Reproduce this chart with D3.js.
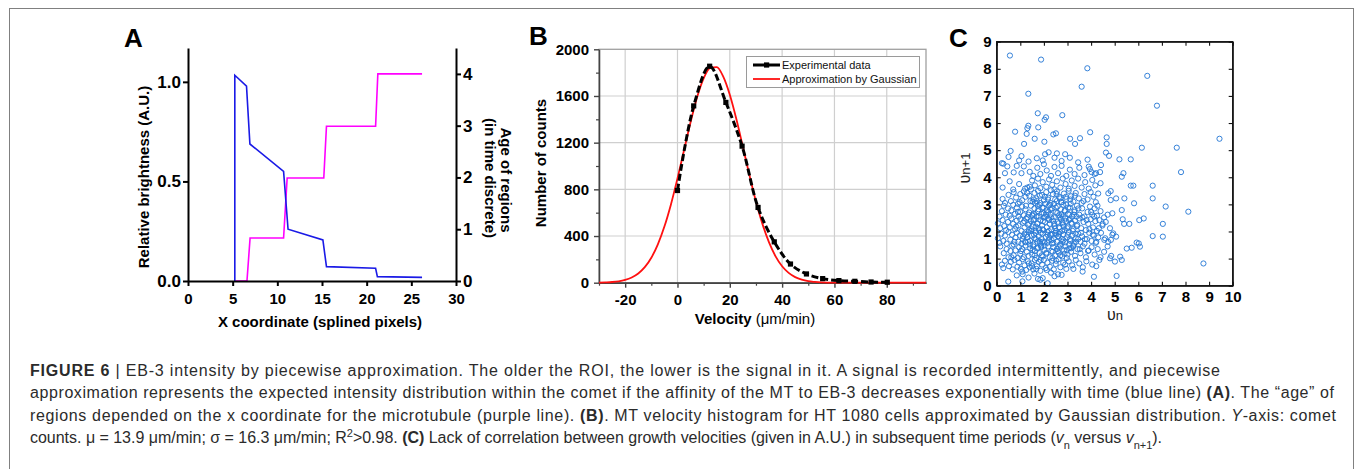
<!DOCTYPE html>
<html>
<head>
<meta charset="utf-8">
<script src="https://cdn.jsdelivr.net/npm/d3@7"></script>
<style>
body { margin: 0; background: #fff; }
svg { display: block; font-family: 'Liberation Sans', Arial, Helvetica, sans-serif; }
</style>
</head>
<body>
<div id="fig"></div>
<script>
// ---- panel A: piecewise brightness (blue) and region age (magenta)
const brightX = [5.24, 5.24, 6.55, 6.93, 10.7, 11.2, 15.1, 15.5, 21.0, 21.2, 26.2];
const brightY = [0, 1.033, 0.978, 0.688, 0.55, 0.26, 0.206, 0.072, 0.064, 0.022, 0.018];
const ageX = [5.3, 6.6, 6.95, 10.7, 11.1, 15.2, 15.5, 21.0, 21.25, 26.2];
const ageY = [0, 0, 0.83, 0.83, 1.99, 1.99, 2.99, 2.99, 4.0, 4.0];
const ticksAx = [0, 5, 10, 15, 20, 25, 30];
const ticksAy = [0, 0.5, 1.0];
const ticksAy2 = [0, 1, 2, 3, 4];

// ---- panel B: velocity histogram + gaussian
const velBins = [0, 6.2, 12.3, 18.5, 24.7, 30.8, 37.0, 43.2, 49.3, 55.5, 61.7, 67.8, 74.0, 80.2];
const velCounts = [790, 1515, 1855, 1545, 1170, 645, 350, 160, 75, 35, 18, 12, 6, 4];
const gaussX = [-30, -27.5, -25, -22.5, -20, -17.5, -15, -12.5, -10, -7.5, -5, -2.5, 0, 2.5, 5, 7.5, 10, 12.5, 15,
    17.5, 20, 22.5, 25, 27.5, 30, 32.5, 35, 37.5, 40, 42.5, 45, 47.5, 50, 52.5, 55, 57.5, 60, 95];
const gaussY = [1, 3, 6, 12, 24, 45, 79, 133, 214, 329, 481, 671, 894, 1135, 1375, 1589, 1751, 1841, 1847,
    1766, 1611, 1403, 1164, 922, 696, 502, 345, 226, 141, 84, 48, 26, 13, 7, 3, 1, 0, 0];
const ticksBx = [-20, 0, 20, 40, 60, 80];
const minorBx = [-30, -10, 10, 30, 50, 70, 90];
const ticksBy = [0, 400, 800, 1200, 1600, 2000];
const minorBy = [200, 600, 1000, 1400, 1800];

// ---- panel C: v(n) vs v(n+1)
const outlierPairs = [
    [0.56, 8.49], [1.88, 8.34], [3.84, 8.02], [6.38, 7.74], [1.34, 7.08], [3.60, 7.34], [6.79, 6.64],
    [1.74, 6.36], [2.09, 6.21], [2.03, 6.12], [2.78, 6.29], [0.78, 5.68], [1.34, 5.90], [1.30, 5.81],
    [1.76, 5.84], [1.27, 5.60], [2.51, 5.62], [2.40, 5.58], [3.96, 5.66], [3.11, 5.42], [3.53, 5.44],
    [4.66, 5.47], [0.59, 4.97], [1.16, 5.23], [1.61, 5.42], [2.02, 5.31], [3.32, 5.23], [4.66, 5.23],
    [4.63, 4.91], [4.76, 4.79], [5.20, 4.66], [5.68, 4.66], [6.15, 5.09], [7.63, 5.09], [9.44, 5.42],
    [7.81, 4.19], [8.12, 2.73], [7.16, 2.92], [7.04, 2.28], [7.04, 1.81], [6.61, 1.83], [6.61, 3.22],
    [6.61, 3.69], [5.82, 3.04], [6.23, 2.48], [6.04, 2.42], [6.02, 1.56], [6.07, 1.44], [5.93, 1.59],
    [5.72, 1.40], [5.51, 1.37], [8.76, 0.82], [5.08, 0.36], [4.12, 0.33], [3.64, 0.52], [0.49, 0.15],
    [2.16, 0.09], [1.09, 0.16], [5.23, 1.07], [5.30, 0.95], [5.01, 0.89], [4.80, 1.01], [5.41, 3.22],
    [5.30, 4.02], [5.37, 4.15], [5.79, 3.69], [5.68, 3.69], [5.30, 2.79], [4.90, 2.67], [5.06, 3.22],
    [4.49, 2.28], [4.56, 1.69], [4.80, 2.12], [5.40, 2.28], [5.34, 2.45], [4.94, 1.93], [4.84, 1.69],
    [5.06, 1.81], [5.62, 2.28], [4.83, 3.16], [4.73, 3.41], [4.83, 3.49], [4.38, 4.19], [4.42, 4.45],
    [3.90, 4.39], [4.02, 4.19], [4.21, 4.15], [0.22, 4.52], [0.28, 4.50], [0.35, 4.15]
];
const clusterPairs = [
    [1.75, 0.25], [1.85, 0.22], [1.95, 0.28], [2.45, 0.35], [2.6, 0.42], [2.75, 0.4], [1.1, 0.42], [0.85, 0.38],
    [1.6, 0.45], [2.3, 0.48], [1.35, 0.3],
    [0.22, 0.78], [0.28, 0.65], [0.35, 0.92], [0.52, 0.72], [0.6, 0.88], [0.68, 0.6], [0.75, 0.95], [0.88, 0.7],
    [0.95, 0.85], [1.02, 0.62], [1.1, 0.98], [1.18, 0.75], [1.25, 0.58], [1.32, 0.9], [1.4, 0.68], [1.48, 0.82],
    [1.55, 0.6], [1.62, 0.95], [1.7, 0.72], [1.78, 0.88], [1.85, 0.55], [1.92, 0.78], [2.0, 0.95], [2.08, 0.65],
    [2.15, 0.85], [2.25, 0.7], [2.35, 0.92], [2.42, 0.6], [2.5, 0.8], [2.62, 0.98], [2.7, 0.68], [2.82, 0.85],
    [2.95, 0.62], [3.05, 0.9], [3.2, 0.75], [3.35, 0.95], [3.5, 0.82], [3.65, 0.68], [3.8, 0.9], [4.05, 0.78],
    [4.22, 0.72], [4.35, 0.95],
    [0.15, 1.45], [0.3, 1.2], [0.42, 1.35], [0.5, 1.05], [0.58, 1.28], [0.65, 1.48], [0.72, 1.12], [0.8, 1.3],
    [0.88, 1.02], [0.95, 1.42], [1.0, 1.18], [1.08, 1.35], [1.15, 1.05], [1.22, 1.48], [1.28, 1.25], [1.35, 1.1],
    [1.42, 1.38], [1.5, 1.15], [1.55, 1.45], [1.62, 1.28], [1.68, 1.02], [1.75, 1.4], [1.82, 1.2], [1.88, 1.48],
    [1.95, 1.08], [2.02, 1.32], [2.1, 1.18], [2.18, 1.45], [2.25, 1.05], [2.32, 1.28], [2.4, 1.42], [2.48, 1.12],
    [2.55, 1.35], [2.62, 1.22], [2.7, 1.48], [2.78, 1.08], [2.85, 1.3], [2.92, 1.45], [3.0, 1.15], [3.08, 1.38],
    [3.15, 1.25], [3.25, 1.48], [3.32, 1.1], [3.42, 1.35], [3.55, 1.2], [3.65, 1.45], [3.78, 1.05], [3.9, 1.3],
    [4.02, 1.42], [4.15, 1.15], [4.28, 1.35], [4.4, 1.05], [4.55, 1.25], [4.7, 1.45], [4.85, 1.1],
    [0.05, 1.75], [0.12, 1.58], [0.2, 1.92], [0.28, 1.65], [0.35, 1.85], [0.42, 1.55], [0.5, 1.98], [0.58, 1.7],
    [0.65, 1.88], [0.72, 1.52], [0.8, 1.78], [0.85, 1.95], [0.92, 1.62], [0.98, 1.85], [1.05, 1.55], [1.1, 1.72],
    [1.18, 1.92], [1.22, 1.6], [1.3, 1.8], [1.35, 1.98], [1.42, 1.65], [1.48, 1.85], [1.55, 1.52], [1.6, 1.75],
    [1.65, 1.95], [1.72, 1.62], [1.78, 1.82], [1.85, 1.55], [1.9, 1.72], [1.95, 1.92], [2.02, 1.6], [2.08, 1.8],
    [2.15, 1.98], [2.2, 1.68], [2.28, 1.88], [2.35, 1.55], [2.42, 1.75], [2.48, 1.95], [2.55, 1.62], [2.62, 1.82],
    [2.68, 1.52], [2.75, 1.72], [2.82, 1.9], [2.9, 1.6], [2.98, 1.78], [3.05, 1.98], [3.12, 1.65], [3.2, 1.85],
    [3.28, 1.55], [3.35, 1.75], [3.45, 1.92], [3.55, 1.62], [3.62, 1.82], [3.72, 1.55], [3.82, 1.72], [3.92, 1.95],
    [4.02, 1.65], [4.12, 1.85], [4.2, 1.58], [4.3, 1.78], [4.42, 1.95], [4.6, 1.75], [4.72, 1.62], [4.9, 1.88],
    [0.05, 2.3], [0.15, 2.12], [0.25, 2.42], [0.32, 2.2], [0.4, 2.05], [0.48, 2.35], [0.55, 2.15], [0.62, 2.48],
    [0.7, 2.28], [0.78, 2.08], [0.85, 2.4], [0.92, 2.22], [1.0, 2.45], [1.05, 2.02], [1.12, 2.32], [1.18, 2.15],
    [1.25, 2.48], [1.32, 2.25], [1.38, 2.05], [1.45, 2.38], [1.52, 2.18], [1.58, 2.45], [1.65, 2.02], [1.72, 2.3],
    [1.78, 2.12], [1.85, 2.42], [1.92, 2.22], [1.98, 2.05], [2.05, 2.35], [2.12, 2.15], [2.18, 2.48], [2.25, 2.28],
    [2.32, 2.08], [2.38, 2.4], [2.45, 2.2], [2.52, 2.02], [2.58, 2.35], [2.65, 2.15], [2.72, 2.45], [2.8, 2.25],
    [2.88, 2.05], [2.95, 2.38], [3.02, 2.18], [3.1, 2.45], [3.18, 2.28], [3.25, 2.08], [3.32, 2.4], [3.4, 2.2],
    [3.5, 2.48], [3.58, 2.12], [3.68, 2.35], [3.78, 2.05], [3.88, 2.28], [3.98, 2.45], [4.08, 2.15], [4.18, 2.38],
    [4.25, 2.02], [4.35, 2.42], [4.48, 2.22], [4.62, 2.35],
    [0.12, 2.55], [0.22, 2.75], [0.3, 2.95], [0.38, 2.62], [0.48, 2.85], [0.55, 2.58], [0.62, 2.78], [0.7, 2.98],
    [0.78, 2.65], [0.85, 2.88], [0.92, 2.55], [1.0, 2.72], [1.08, 2.92], [1.15, 2.6], [1.22, 2.82], [1.3, 2.52],
    [1.38, 2.7], [1.45, 2.95], [1.52, 2.62], [1.6, 2.85], [1.68, 2.55], [1.75, 2.75], [1.82, 2.98], [1.9, 2.65],
    [1.98, 2.88], [2.05, 2.55], [2.12, 2.78], [2.2, 2.95], [2.28, 2.62], [2.35, 2.85], [2.42, 2.52], [2.5, 2.72],
    [2.58, 2.92], [2.65, 2.6], [2.72, 2.82], [2.8, 2.55], [2.88, 2.75], [2.95, 2.98], [3.02, 2.65], [3.1, 2.88],
    [3.2, 2.55], [3.3, 2.78], [3.4, 2.95], [3.5, 2.62], [3.62, 2.85], [3.72, 2.55], [3.85, 2.72], [3.95, 2.92],
    [4.05, 2.62], [4.15, 2.85], [4.25, 2.58], [4.4, 2.75], [4.55, 2.52], [4.7, 2.62],
    [0.25, 3.2], [0.35, 3.05], [0.5, 3.35], [0.6, 3.12], [0.72, 3.45], [0.82, 3.25], [0.9, 3.02], [1.0, 3.38],
    [1.08, 3.15], [1.15, 3.48], [1.22, 3.28], [1.3, 3.62], [1.38, 3.32], [1.45, 3.55], [1.52, 3.1], [1.6, 3.42],
    [1.68, 3.22], [1.75, 3.5], [1.85, 3.05], [1.92, 3.35], [2.0, 3.15], [2.1, 3.45], [2.18, 3.25], [2.28, 3.05],
    [2.38, 3.38], [2.48, 3.18], [2.55, 3.48], [2.65, 3.28], [2.75, 3.08], [2.85, 3.4], [2.95, 3.2], [3.05, 3.5],
    [3.15, 3.3], [3.25, 3.1], [3.35, 3.42], [3.48, 3.22], [3.6, 3.05], [3.72, 3.38], [3.85, 3.18], [3.98, 3.45],
    [4.1, 3.28], [4.2, 3.08], [4.3, 3.4],
    [0.25, 3.62], [0.55, 3.85], [0.7, 3.55], [0.95, 3.75], [1.2, 3.58], [1.4, 3.65], [1.5, 3.88], [1.62, 3.7],
    [1.75, 3.95], [1.85, 3.6], [1.95, 3.82], [2.1, 3.65], [2.22, 3.92], [2.35, 3.72], [2.45, 3.55], [2.55, 3.85],
    [2.7, 3.62], [2.8, 3.95], [2.92, 3.75], [3.05, 3.58], [3.18, 3.88], [3.3, 3.68], [3.45, 3.95], [3.6, 3.62],
    [3.75, 3.82], [3.9, 3.58], [4.05, 3.9], [4.18, 3.7], [4.4, 3.78],
    [0.45, 4.4], [0.72, 4.18], [0.85, 4.42], [1.05, 4.15], [1.15, 4.4], [1.4, 4.2], [1.55, 4.05], [1.72, 4.35],
    [1.85, 4.12], [2.0, 4.48], [2.12, 4.25], [2.3, 4.05], [2.45, 4.38], [2.6, 4.15], [2.75, 4.42], [2.95, 4.05],
    [3.1, 4.28], [3.3, 4.12], [3.5, 4.35], [3.72, 4.08], [3.95, 4.3], [4.15, 4.12],
    [0.5, 4.75], [0.95, 4.62], [1.05, 4.78], [1.35, 4.58], [1.7, 4.7], [1.95, 4.62], [2.05, 4.85], [2.2, 4.92],
    [2.45, 4.72], [2.55, 4.88], [2.75, 4.6], [2.9, 4.85], [3.1, 4.72], [3.45, 4.55], [3.85, 4.65],
    [1.33, 1.62], [1.47, 2.08], [1.58, 2.65], [1.63, 3.05], [1.71, 1.38], [1.79, 2.55], [1.87, 1.95], [1.93, 2.88],
    [2.03, 1.48], [2.09, 2.62], [2.17, 3.18], [2.23, 1.78], [2.31, 2.52], [2.37, 1.25], [2.43, 3.02], [2.51, 1.88],
    [2.57, 2.68], [2.63, 1.42], [2.69, 3.22], [2.77, 2.02], [2.83, 1.68], [2.91, 2.48], [2.97, 1.32], [3.03, 2.88],
    [3.11, 1.72], [3.17, 2.32], [3.23, 1.45], [3.29, 2.72], [1.38, 2.28], [1.52, 1.32], [1.66, 2.18], [1.74, 2.95],
    [1.82, 1.62], [1.96, 2.38], [2.04, 3.28], [2.14, 1.58], [2.27, 2.82], [2.47, 2.12], [2.61, 1.82], [2.74, 2.62],
    [2.87, 1.18], [2.99, 2.12], [3.14, 3.02], [3.33, 1.92], [1.25, 1.88], [1.43, 3.12], [1.91, 1.12], [2.33, 1.68],
    [2.55, 3.12], [2.79, 2.32], [3.07, 1.52], [3.38, 2.55], [1.56, 2.42], [2.21, 2.02], [2.67, 1.98], [1.99, 2.68]
];
const corePairs = [
    [0.62, 1.05], [0.75, 1.62], [0.82, 2.18], [0.9, 2.72], [0.97, 3.08], [1.03, 1.28], [1.12, 1.82], [1.17, 2.38],
    [1.24, 2.95], [1.29, 3.42], [1.36, 0.82], [1.41, 1.52], [1.46, 2.02], [1.51, 2.58], [1.57, 3.18], [1.61, 1.12],
    [1.67, 1.72], [1.73, 2.28], [1.77, 2.82], [1.83, 3.32], [1.86, 0.95], [1.89, 1.42], [1.94, 2.08], [2.0, 2.52],
    [2.06, 3.02], [2.11, 1.22], [2.16, 1.88], [2.22, 2.42], [2.26, 2.98], [2.3, 3.52], [2.36, 1.02], [2.4, 1.58],
    [2.44, 2.28], [2.5, 2.88], [2.54, 3.38], [2.59, 1.28], [2.64, 1.92], [2.68, 2.52], [2.73, 3.08], [2.78, 1.62],
    [2.84, 2.18], [2.89, 2.78], [2.93, 3.28], [2.97, 1.02], [3.01, 1.88], [3.06, 2.42], [3.12, 3.18], [3.16, 1.38],
    [3.22, 2.02], [3.27, 2.62], [3.31, 3.32], [3.36, 1.62], [3.41, 2.25], [3.46, 2.85], [3.52, 1.35], [3.57, 1.95],
    [3.63, 2.52], [3.68, 3.12], [3.74, 1.72], [3.81, 2.42], [3.87, 1.28], [3.93, 2.08], [4.0, 2.72], [4.07, 1.88],
    [4.13, 2.55], [4.22, 1.62], [4.27, 2.95], [4.33, 2.12], [1.08, 0.52], [1.5, 0.72], [1.68, 0.62], [2.12, 0.58],
    [2.52, 0.92], [2.9, 0.78], [3.25, 0.62], [1.2, 1.62], [1.35, 2.62], [1.8, 2.05], [2.35, 1.88], [2.62, 2.3],
    [1.95, 1.62], [2.82, 2.98], [3.08, 2.62], [1.58, 1.88], [2.18, 2.72], [2.7, 1.12], [3.45, 1.72], [1.7, 3.12]
];
const ticksC = [0, 1, 2, 3, 4, 5, 6, 7, 8, 9, 10];
const ticksCy = [0, 1, 2, 3, 4, 5, 6, 7, 8, 9];

const W = 1355, H = 469;
const FONT = "'Liberation Sans', Arial, sans-serif";
const plain = d => String(d);

let svg = d3.select('#fig').append('svg')
    .attr('width', W)
    .attr('height', H);

// outer frame of the figure
svg.append('rect')
    .attr('x', 9.5).attr('y', 8.5)
    .attr('width', 1344).attr('height', 470)
    .attr('fill', 'none')
    .attr('stroke', '#808080')
    .attr('stroke-width', 1);

// restyle the d3 axis defaults
function styleAxis(g, size, weight, stroke, width) {
    g.attr('font-size', null).attr('font-family', null);
    g.selectAll('path, line').attr('stroke', stroke).attr('stroke-width', width);
    g.selectAll('text')
        .attr('fill', '#000')
        .style('font-family', FONT)
        .style('font-size', size + 'px')
        .style('font-weight', weight);
}

function panelLetter(x, y, t) {
    svg.append('text')
        .attr('x', x).attr('y', y)
        .style('font-size', '26px')
        .style('font-weight', 'bold')
        .text(t);
}

// ================= A =================
let xA = d3.scaleLinear().domain([0, 30]).range([188, 456]);
let yA = d3.scaleLinear().domain([0, 1.17]).range([281, 48]);
let yA2 = d3.scaleLinear().domain([0, 4.5]).range([281, 48]);

let gA = svg.append('g');

gA.append('path')
    .datum(d3.range(ageX.length))
    .attr('fill', 'none')
    .attr('stroke', '#ff00ff')
    .attr('stroke-width', 1.6)
    .attr('d', d3.line().x(i => xA(ageX[i])).y(i => yA2(ageY[i])));

gA.append('path')
    .datum(d3.range(brightX.length))
    .attr('fill', 'none')
    .attr('stroke', '#1a1ae6')
    .attr('stroke-width', 1.6)
    .attr('d', d3.line().x(i => xA(brightX[i])).y(i => yA(brightY[i])));

gA.append('g')
    .attr('transform', 'translate(0,281)')
    .call(d3.axisBottom(xA).tickValues(ticksAx).tickFormat(plain).tickSize(5).tickSizeOuter(0).tickPadding(7))
    .call(g => styleAxis(g, 15, 'bold', '#000', 2));

gA.append('g')
    .attr('transform', 'translate(188,0)')
    .call(d3.axisLeft(yA).tickValues(ticksAy).tickFormat(d3.format('.1f')).tickSize(5).tickSizeOuter(0).tickPadding(2))
    .call(g => styleAxis(g, 17, 'bold', '#000', 2));

gA.append('g')
    .attr('transform', 'translate(456,0)')
    .call(d3.axisRight(yA2).tickValues(ticksAy2).tickFormat(plain).tickSize(5).tickSizeOuter(0).tickPadding(2))
    .call(g => styleAxis(g, 17, 'bold', '#000', 2));

gA.append('text')
    .attr('x', 320).attr('y', 327)
    .attr('text-anchor', 'middle')
    .style('font-size', '15px').style('font-weight', 'bold')
    .text('X coordinate (splined pixels)');

gA.append('text')
    .attr('transform', 'translate(149,177) rotate(-90)')
    .attr('text-anchor', 'middle')
    .style('font-size', '15px').style('font-weight', 'bold')
    .text('Relative brightness (A.U.)');

gA.append('text')
    .attr('transform', 'translate(501,180) rotate(90)')
    .attr('text-anchor', 'middle')
    .style('font-size', '15px').style('font-weight', 'bold')
    .text('Age of regions');

gA.append('text')
    .attr('transform', 'translate(485,178) rotate(90)')
    .attr('text-anchor', 'middle')
    .style('font-size', '15px').style('font-weight', 'bold')
    .text('(in time discrete)');

panelLetter(124, 47, 'A');

// ================= B =================
let xB = d3.scaleLinear().domain([-30, 95]).range([599, 926]);
let yB = d3.scaleLinear().domain([0, 2000]).range([282.7, 49.3]);

let gB = svg.append('g');

// grid
gB.selectAll('line.vgrid')
    .data(ticksBx)
    .enter().append('line')
    .attr('class', 'vgrid')
    .attr('x1', d => xB(d)).attr('x2', d => xB(d))
    .attr('y1', yB(0)).attr('y2', yB(2000))
    .attr('stroke', '#cfcfcf').attr('stroke-width', 1.2);

gB.selectAll('line.hgrid')
    .data(ticksBy.slice(1, -1))
    .enter().append('line')
    .attr('class', 'hgrid')
    .attr('x1', xB(-30)).attr('x2', xB(95))
    .attr('y1', d => yB(d)).attr('y2', d => yB(d))
    .attr('stroke', '#cfcfcf').attr('stroke-width', 1.2);

gB.append('rect')
    .attr('x', xB(-30)).attr('y', yB(2000))
    .attr('width', xB(95) - xB(-30)).attr('height', yB(0) - yB(2000))
    .attr('fill', 'none').attr('stroke', '#a0a0a0').attr('stroke-width', 1.3);

// minor ticks
gB.append('g')
    .attr('transform', `translate(0,${yB(0)})`)
    .call(d3.axisBottom(xB).tickValues(minorBx).tickSize(3).tickSizeOuter(0).tickFormat(''))
    .call(g => styleAxis(g, 14, 'bold', '#444', 1.2));

gB.append('g')
    .attr('transform', `translate(${xB(-30)},0)`)
    .call(d3.axisLeft(yB).tickValues(minorBy).tickSize(3).tickSizeOuter(0).tickFormat(''))
    .call(g => styleAxis(g, 14, 'bold', '#444', 1.2));

gB.append('g')
    .attr('transform', `translate(0,${yB(0)})`)
    .call(d3.axisBottom(xB).tickValues(ticksBx).tickFormat(plain).tickSize(5).tickSizeOuter(0).tickPadding(7))
    .call(g => styleAxis(g, 15, 'bold', '#444', 1.4));

gB.append('g')
    .attr('transform', `translate(${xB(-30)},0)`)
    .call(d3.axisLeft(yB).tickValues(ticksBy).tickFormat(plain).tickSize(5).tickSizeOuter(0).tickPadding(5))
    .call(g => styleAxis(g, 15, 'bold', '#444', 1.4));

gB.append('path')
    .datum(d3.range(gaussX.length))
    .attr('fill', 'none')
    .attr('stroke', '#ff1010')
    .attr('stroke-width', 1.8)
    .attr('d', d3.line().curve(d3.curveMonotoneX).x(i => xB(gaussX[i])).y(i => yB(gaussY[i])));

gB.append('path')
    .datum(d3.range(velBins.length))
    .attr('fill', 'none')
    .attr('stroke', '#000')
    .attr('stroke-width', 3)
    .attr('stroke-dasharray', '7,3')
    .attr('d', d3.line().curve(d3.curveCatmullRom).x(i => xB(velBins[i])).y(i => yB(velCounts[i])));

gB.selectAll('rect.pt')
    .data(d3.range(velBins.length))
    .enter().append('rect')
    .attr('class', 'pt')
    .attr('x', i => xB(velBins[i]) - 2.6)
    .attr('y', i => yB(velCounts[i]) - 2.6)
    .attr('width', 5.2).attr('height', 5.2)
    .attr('fill', '#000');

// legend
let lg = gB.append('g');
lg.append('rect')
    .attr('x', 746.5).attr('y', 56.5).attr('width', 173).attr('height', 31)
    .attr('fill', '#fff').attr('stroke', '#9a9a9a').attr('stroke-width', 1);
lg.append('line')
    .attr('x1', 753).attr('x2', 780).attr('y1', 65).attr('y2', 65)
    .attr('stroke', '#000').attr('stroke-width', 3);
lg.append('rect')
    .attr('x', 764).attr('y', 62.4).attr('width', 5.2).attr('height', 5.2).attr('fill', '#000');
lg.append('line')
    .attr('x1', 753).attr('x2', 780).attr('y1', 79).attr('y2', 79)
    .attr('stroke', '#ff1010').attr('stroke-width', 1.8);
lg.append('text').attr('x', 782).attr('y', 69)
    .style('font-size', '11px').attr('fill', '#111').text('Experimental data');
lg.append('text').attr('x', 782).attr('y', 83)
    .style('font-size', '11px').attr('fill', '#111').text('Approximation by Gaussian');

let vt = gB.append('text')
    .attr('x', 755).attr('y', 324)
    .attr('text-anchor', 'middle')
    .style('font-size', '15px');
vt.append('tspan').style('font-weight', 'bold').text('Velocity ');
vt.append('tspan').text('(\u03bcm/min)');

gB.append('text')
    .attr('transform', 'translate(546,163) rotate(-90)')
    .attr('text-anchor', 'middle')
    .style('font-size', '15px').style('font-weight', 'bold')
    .text('Number of counts');

panelLetter(529, 45, 'B');

// ================= C =================
let xC = d3.scaleLinear().domain([0, 10]).range([996.7, 1232.7]);
let yC = d3.scaleLinear().domain([0, 9]).range([285.7, 41.7]);

let gC = svg.append('g');

let allPairs = outlierPairs.concat(clusterPairs, corePairs);
gC.selectAll('circle')
    .data(allPairs)
    .enter().append('circle')
    .attr('cx', d => xC(d[0]))
    .attr('cy', d => yC(d[1]))
    .attr('r', 2.6)
    .attr('fill', 'none')
    .attr('stroke', '#2b7bd6')
    .attr('stroke-width', 0.95);

gC.append('rect')
    .attr('x', xC(0)).attr('y', yC(9))
    .attr('width', xC(10) - xC(0)).attr('height', yC(0) - yC(9))
    .attr('fill', 'none').attr('stroke', '#111').attr('stroke-width', 1.3);

gC.append('g')
    .attr('transform', `translate(0,${yC(0)})`)
    .call(d3.axisBottom(xC).tickValues(ticksC).tickFormat(plain).tickSize(-4).tickSizeOuter(0).tickPadding(6))
    .call(g => styleAxis(g, 15, 'bold', '#111', 1.1));

gC.append('g')
    .attr('transform', `translate(0,${yC(9)})`)
    .call(d3.axisTop(xC).tickValues(ticksC).tickSize(-4).tickSizeOuter(0).tickFormat(''))
    .call(g => styleAxis(g, 15, 'bold', '#111', 1.1));

gC.append('g')
    .attr('transform', `translate(${xC(0)},0)`)
    .call(d3.axisLeft(yC).tickValues(ticksCy).tickFormat(plain).tickSize(-4).tickSizeOuter(0).tickPadding(5))
    .call(g => styleAxis(g, 15, 'bold', '#111', 1.1));

gC.append('g')
    .attr('transform', `translate(${xC(10)},0)`)
    .call(d3.axisRight(yC).tickValues(ticksCy).tickSize(-4).tickSizeOuter(0).tickFormat(''))
    .call(g => styleAxis(g, 15, 'bold', '#111', 1.1));

let xl = gC.append('text')
    .attr('x', 1115).attr('y', 320)
    .attr('text-anchor', 'middle')
    .attr('fill', '#222');
xl.append('tspan').style('font-size', '16px').text('\u03c5');
xl.append('tspan').style('font-size', '13px').text('n');

let yl = gC.append('text')
    .attr('transform', 'translate(970,168) rotate(-90)')
    .attr('text-anchor', 'middle')
    .attr('fill', '#222');
yl.append('tspan').style('font-size', '16px').text('\u03c5');
yl.append('tspan').style('font-size', '13px').text('n+1');

panelLetter(949, 47, 'C');

// ================= caption =================
const captionLines = [
    [['FIGURE 6', 'b'], [' | EB-3 intensity by piecewise approximation. The older the ROI, the lower is the signal in it. A signal is recorded intermittently, and piecewise', '']],
    [['approximation represents the expected intensity distribution within the comet if the affinity of the MT to EB-3 decreases exponentially with time (blue line) ', ''], ['(A)', 'b'], ['. The \u201cage\u201d of', '']],
    [['regions depended on the x coordinate for the microtubule (purple line). ', ''], ['(B)', 'b'], ['. MT velocity histogram for HT 1080 cells approximated by Gaussian distribution. ', ''], ['Y', 'i'], ['-axis: comet', '']],
    [['counts. \u03bc = 13.9 \u03bcm/min; \u03c3 = 16.3 \u03bcm/min; R', ''], ['2', 'sup'], ['>0.98. ', ''], ['(C)', 'b'], [' Lack of correlation between growth velocities (given in A.U.) in subsequent time periods (', ''], ['v', 'i'], ['n', 'sub'], [' versus ', ''], ['v', 'i'], ['n+1', 'sub'], [').', '']]
];
const captionWidths = [1190, 1304, 1306, 1132];

captionLines.forEach((line, k) => {
    let t = svg.append('text')
        .attr('x', 30)
        .attr('y', 376 + k * 22.3)
        .attr('fill', '#2b2b2b')
        .attr('textLength', captionWidths[k])
        .attr('lengthAdjust', 'spacing')
        .style('font-size', '16px');
    line.forEach(seg => {
        let s = t.append('tspan').text(seg[0]);
        if (seg[1] === 'b') s.style('font-weight', 'bold');
        if (seg[1] === 'i') s.style('font-style', 'italic');
        if (seg[1] === 'sup') s.attr('baseline-shift', 'super').style('font-size', '11px');
        if (seg[1] === 'sub') s.attr('baseline-shift', 'sub').style('font-size', '11px');
    });
});
</script>
</body>
</html>
